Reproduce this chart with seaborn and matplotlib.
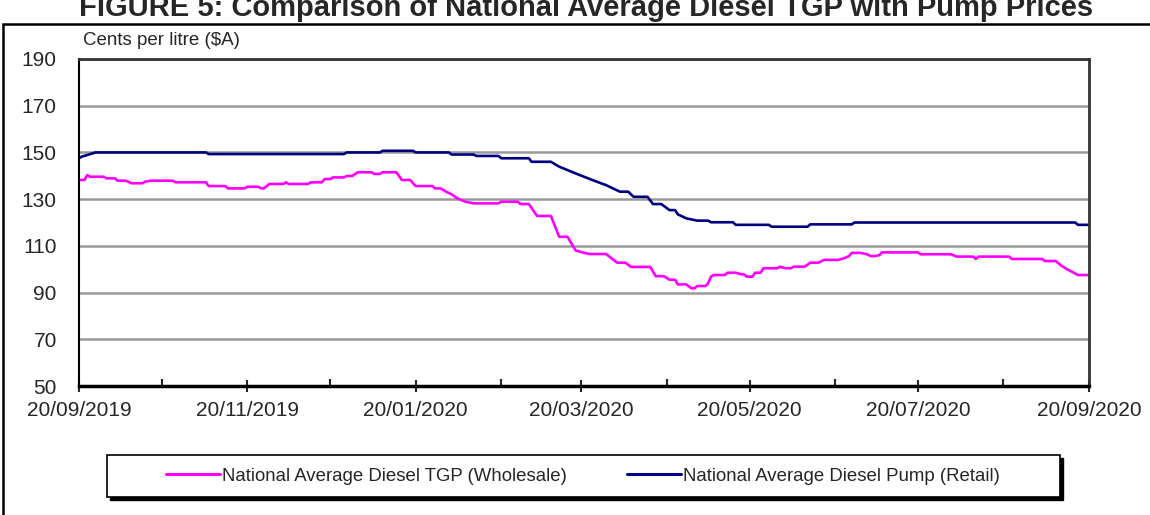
import pandas as pd
import numpy as np
import matplotlib
matplotlib.use("Agg")
import matplotlib.pyplot as plt
import matplotlib.dates as mdates
from matplotlib.patches import Rectangle
import seaborn as sns

# Wholesale (TGP) series
tgp_dates = [
    "2019-09-20", "2019-09-22", "2019-09-23", "2019-09-24", "2019-09-29", "2019-09-30",
    "2019-10-03", "2019-10-04", "2019-10-07", "2019-10-09", "2019-10-13", "2019-10-14",
    "2019-10-16", "2019-10-24", "2019-10-25", "2019-11-05", "2019-11-06", "2019-11-12",
    "2019-11-13", "2019-11-19", "2019-11-20", "2019-11-24", "2019-11-25", "2019-11-26",
    "2019-11-28", "2019-12-03", "2019-12-04", "2019-12-05", "2019-12-12", "2019-12-13",
    "2019-12-17", "2019-12-18", "2019-12-20", "2019-12-21", "2019-12-25", "2019-12-26",
    "2019-12-28", "2019-12-30", "2020-01-04", "2020-01-05", "2020-01-07", "2020-01-08",
    "2020-01-13", "2020-01-15", "2020-01-18", "2020-01-20", "2020-01-26", "2020-01-27",
    "2020-01-29", "2020-01-31", "2020-02-02", "2020-02-04", "2020-02-07", "2020-02-10",
    "2020-02-19", "2020-02-20", "2020-02-26", "2020-02-27", "2020-03-01", "2020-03-04",
    "2020-03-09", "2020-03-12", "2020-03-15", "2020-03-18", "2020-03-21", "2020-03-23",
    "2020-03-29", "2020-04-02", "2020-04-05", "2020-04-07", "2020-04-14", "2020-04-16",
    "2020-04-19", "2020-04-21", "2020-04-23", "2020-04-24", "2020-04-27", "2020-04-29",
    "2020-04-30", "2020-05-01", "2020-05-04", "2020-05-05", "2020-05-06", "2020-05-07",
    "2020-05-11", "2020-05-12", "2020-05-15", "2020-05-17", "2020-05-18", "2020-05-19",
    "2020-05-21", "2020-05-22", "2020-05-24", "2020-05-25", "2020-05-30", "2020-05-31",
    "2020-06-02", "2020-06-04", "2020-06-05", "2020-06-09", "2020-06-11", "2020-06-14",
    "2020-06-16", "2020-06-21", "2020-06-23", "2020-06-25", "2020-06-26", "2020-06-29",
    "2020-07-01", "2020-07-03", "2020-07-04", "2020-07-06", "2020-07-07", "2020-07-20",
    "2020-07-21", "2020-08-01", "2020-08-03", "2020-08-09", "2020-08-10", "2020-08-11",
    "2020-08-22", "2020-08-23", "2020-09-03", "2020-09-04", "2020-09-08", "2020-09-10",
    "2020-09-12", "2020-09-14", "2020-09-16", "2020-09-20",
]
tgp_values = [
    138.2, 138.2, 140.3, 139.6, 139.6, 138.9,
    138.9, 137.9, 137.9, 136.8, 136.8, 137.5,
    137.9, 137.9, 137.2, 137.2, 135.6, 135.6,
    134.6, 134.6, 135.3, 135.3, 134.6, 134.6,
    136.5, 136.5, 137.2, 136.5, 136.5, 137.2,
    137.2, 138.6, 138.6, 139.3, 139.3, 139.9,
    139.9, 141.5, 141.5, 140.8, 140.8, 141.5,
    141.5, 138.2, 138.2, 135.6, 135.6, 134.6,
    134.6, 133.2, 132.1, 130.4, 128.9, 128.2,
    128.2, 128.9, 128.9, 127.9, 127.9, 122.8,
    122.8, 113.9, 113.9, 108.0, 107.0, 106.5,
    106.5, 102.8, 102.8, 101.0, 101.0, 97.0,
    97.0, 95.5, 95.5, 93.5, 93.5, 91.8,
    91.8, 92.8, 92.8, 94.0, 96.8, 97.5,
    97.5, 98.5, 98.5, 97.8, 97.8, 96.8,
    96.8, 98.5, 98.5, 100.4, 100.4, 101.1,
    100.4, 100.4, 101.1, 101.1, 102.8, 102.8,
    104.0, 104.0, 104.6, 105.6, 107.0, 107.0,
    106.6, 105.6, 105.6, 106.0, 107.2, 107.2,
    106.4, 106.4, 105.4, 105.4, 104.4, 105.4,
    105.4, 104.4, 104.4, 103.5, 103.5, 101.5,
    100.0, 98.8, 97.5, 97.5,
]

# Retail (pump) series
pump_dates = [
    "2019-09-20", "2019-09-21", "2019-09-23", "2019-09-26", "2019-11-05", "2019-11-06",
    "2019-12-25", "2019-12-26", "2020-01-07", "2020-01-08", "2020-01-19", "2020-01-20",
    "2020-02-01", "2020-02-02", "2020-02-10", "2020-02-11", "2020-02-19", "2020-02-20",
    "2020-03-01", "2020-03-02", "2020-03-09", "2020-03-12", "2020-03-18", "2020-03-24",
    "2020-03-29", "2020-04-03", "2020-04-06", "2020-04-08", "2020-04-13", "2020-04-15",
    "2020-04-18", "2020-04-21", "2020-04-23", "2020-04-24", "2020-04-27", "2020-05-01",
    "2020-05-05", "2020-05-06", "2020-05-14", "2020-05-15", "2020-05-27", "2020-05-28",
    "2020-06-10", "2020-06-11", "2020-06-26", "2020-06-27", "2020-09-15", "2020-09-16",
    "2020-09-20",
]
pump_values = [
    147.5, 148.2, 148.9, 150.0, 150.0, 149.3,
    149.3, 150.0, 150.0, 150.7, 150.7, 150.0,
    150.0, 149.1, 149.1, 148.5, 148.5, 147.5,
    147.5, 146.0, 146.0, 143.9, 141.0, 138.2,
    136.0, 133.2, 133.2, 131.0, 131.0, 127.9,
    127.9, 125.3, 125.3, 123.5, 121.8, 120.8,
    120.8, 120.1, 120.1, 119.0, 119.0, 118.2,
    118.2, 119.2, 119.2, 120.0, 120.0, 119.0,
    119.0,
]

tgp_label = "National Average Diesel TGP (Wholesale)"
pump_label = "National Average Diesel Pump (Retail)"
y_ticks = [50, 70, 90, 110, 130, 150, 170, 190]

df = pd.concat([
    pd.DataFrame({"date": pd.to_datetime(tgp_dates), "price": tgp_values, "series": tgp_label}),
    pd.DataFrame({"date": pd.to_datetime(pump_dates), "price": pump_values, "series": pump_label}),
])

sns.set_style("white")
plt.rcParams["font.family"] = ["Liberation Sans", "DejaVu Sans"]

fig = plt.figure(figsize=(11.5, 5.15), dpi=100)
ax = fig.add_axes([79 / 1150, 1 - 386 / 515, 1010 / 1150, 327 / 515])

sns.lineplot(data=df, x="date", y="price", hue="series", estimator=None,
             palette={tgp_label: "#FF00FF", pump_label: "#000080"},
             linewidth=1.9, ax=ax, legend=False)

ax.set_xlim(pd.Timestamp("2019-09-20"), pd.Timestamp("2020-09-20"))
ax.set_ylim(50, 190)
ax.set_yticks(y_ticks)
ax.yaxis.grid(True, color="#999999", linewidth=1.8)
ax.set_axisbelow(True)
ax.set_xlabel("")
ax.set_ylabel("")

ax.xaxis.set_major_locator(mdates.MonthLocator(bymonth=[9, 11, 1, 3, 5, 7], bymonthday=20))
ax.xaxis.set_minor_locator(mdates.MonthLocator(bymonth=[10, 12, 2, 4, 6, 8], bymonthday=20))
ax.xaxis.set_major_formatter(mdates.DateFormatter("%d/%m/%Y"))
ax.tick_params(axis="x", which="major", direction="inout", length=9, width=1.5,
               labelsize=15, pad=6, bottom=True)
ax.tick_params(axis="x", which="minor", direction="in", length=5, width=1.5, bottom=True)
ax.tick_params(axis="y", length=0, labelsize=15, pad=16)

for side in ["top", "right"]:
    ax.spines[side].set_color("#333333")
    ax.spines[side].set_linewidth(2)
ax.spines["left"].set_color("black")
ax.spines["left"].set_linewidth(1.5)
ax.spines["bottom"].set_color("black")
ax.spines["bottom"].set_linewidth(2.5)

fig.text(83 / 1150, 1 - 45 / 515, "Cents per litre ($A)", fontsize=13.5, va="baseline")

fig.text(586 / 1150, 1 - 16 / 515,
         "FIGURE 5: Comparison of National Average Diesel TGP with Pump Prices",
         fontsize=21, fontweight="bold", ha="center", va="baseline")

# outer chart frame (extends past right/bottom edge)
fig.add_artist(Rectangle((3 / 1150, -0.1), 1.2, 1.1 - 24 / 515,
                         transform=fig.transFigure, fill=False,
                         edgecolor="black", linewidth=1.8))

# legend box with a small shadow
fig.add_artist(Rectangle((110 / 1150, 1 - 500 / 515), 953 / 1150, 42 / 515,
                         transform=fig.transFigure, facecolor="black",
                         edgecolor="black", linewidth=1))
fig.add_artist(Rectangle((107 / 1150, 1 - 497 / 515), 953 / 1150, 42 / 515,
                         transform=fig.transFigure, facecolor="white",
                         edgecolor="black", linewidth=1.2))

handles = [plt.Line2D([], [], color="#FF00FF", linewidth=2.2),
           plt.Line2D([], [], color="#000080", linewidth=2.2)]
fig.legend(handles, [tgp_label, pump_label], ncol=2, frameon=False,
           loc="center left", bbox_to_anchor=(166 / 1150, 1 - 476 / 515),
           fontsize=13.4, handlelength=2.9, handletextpad=0.12,
           columnspacing=3.2, borderpad=0, borderaxespad=0)

fig.savefig("out.png", dpi=100, facecolor="white")
